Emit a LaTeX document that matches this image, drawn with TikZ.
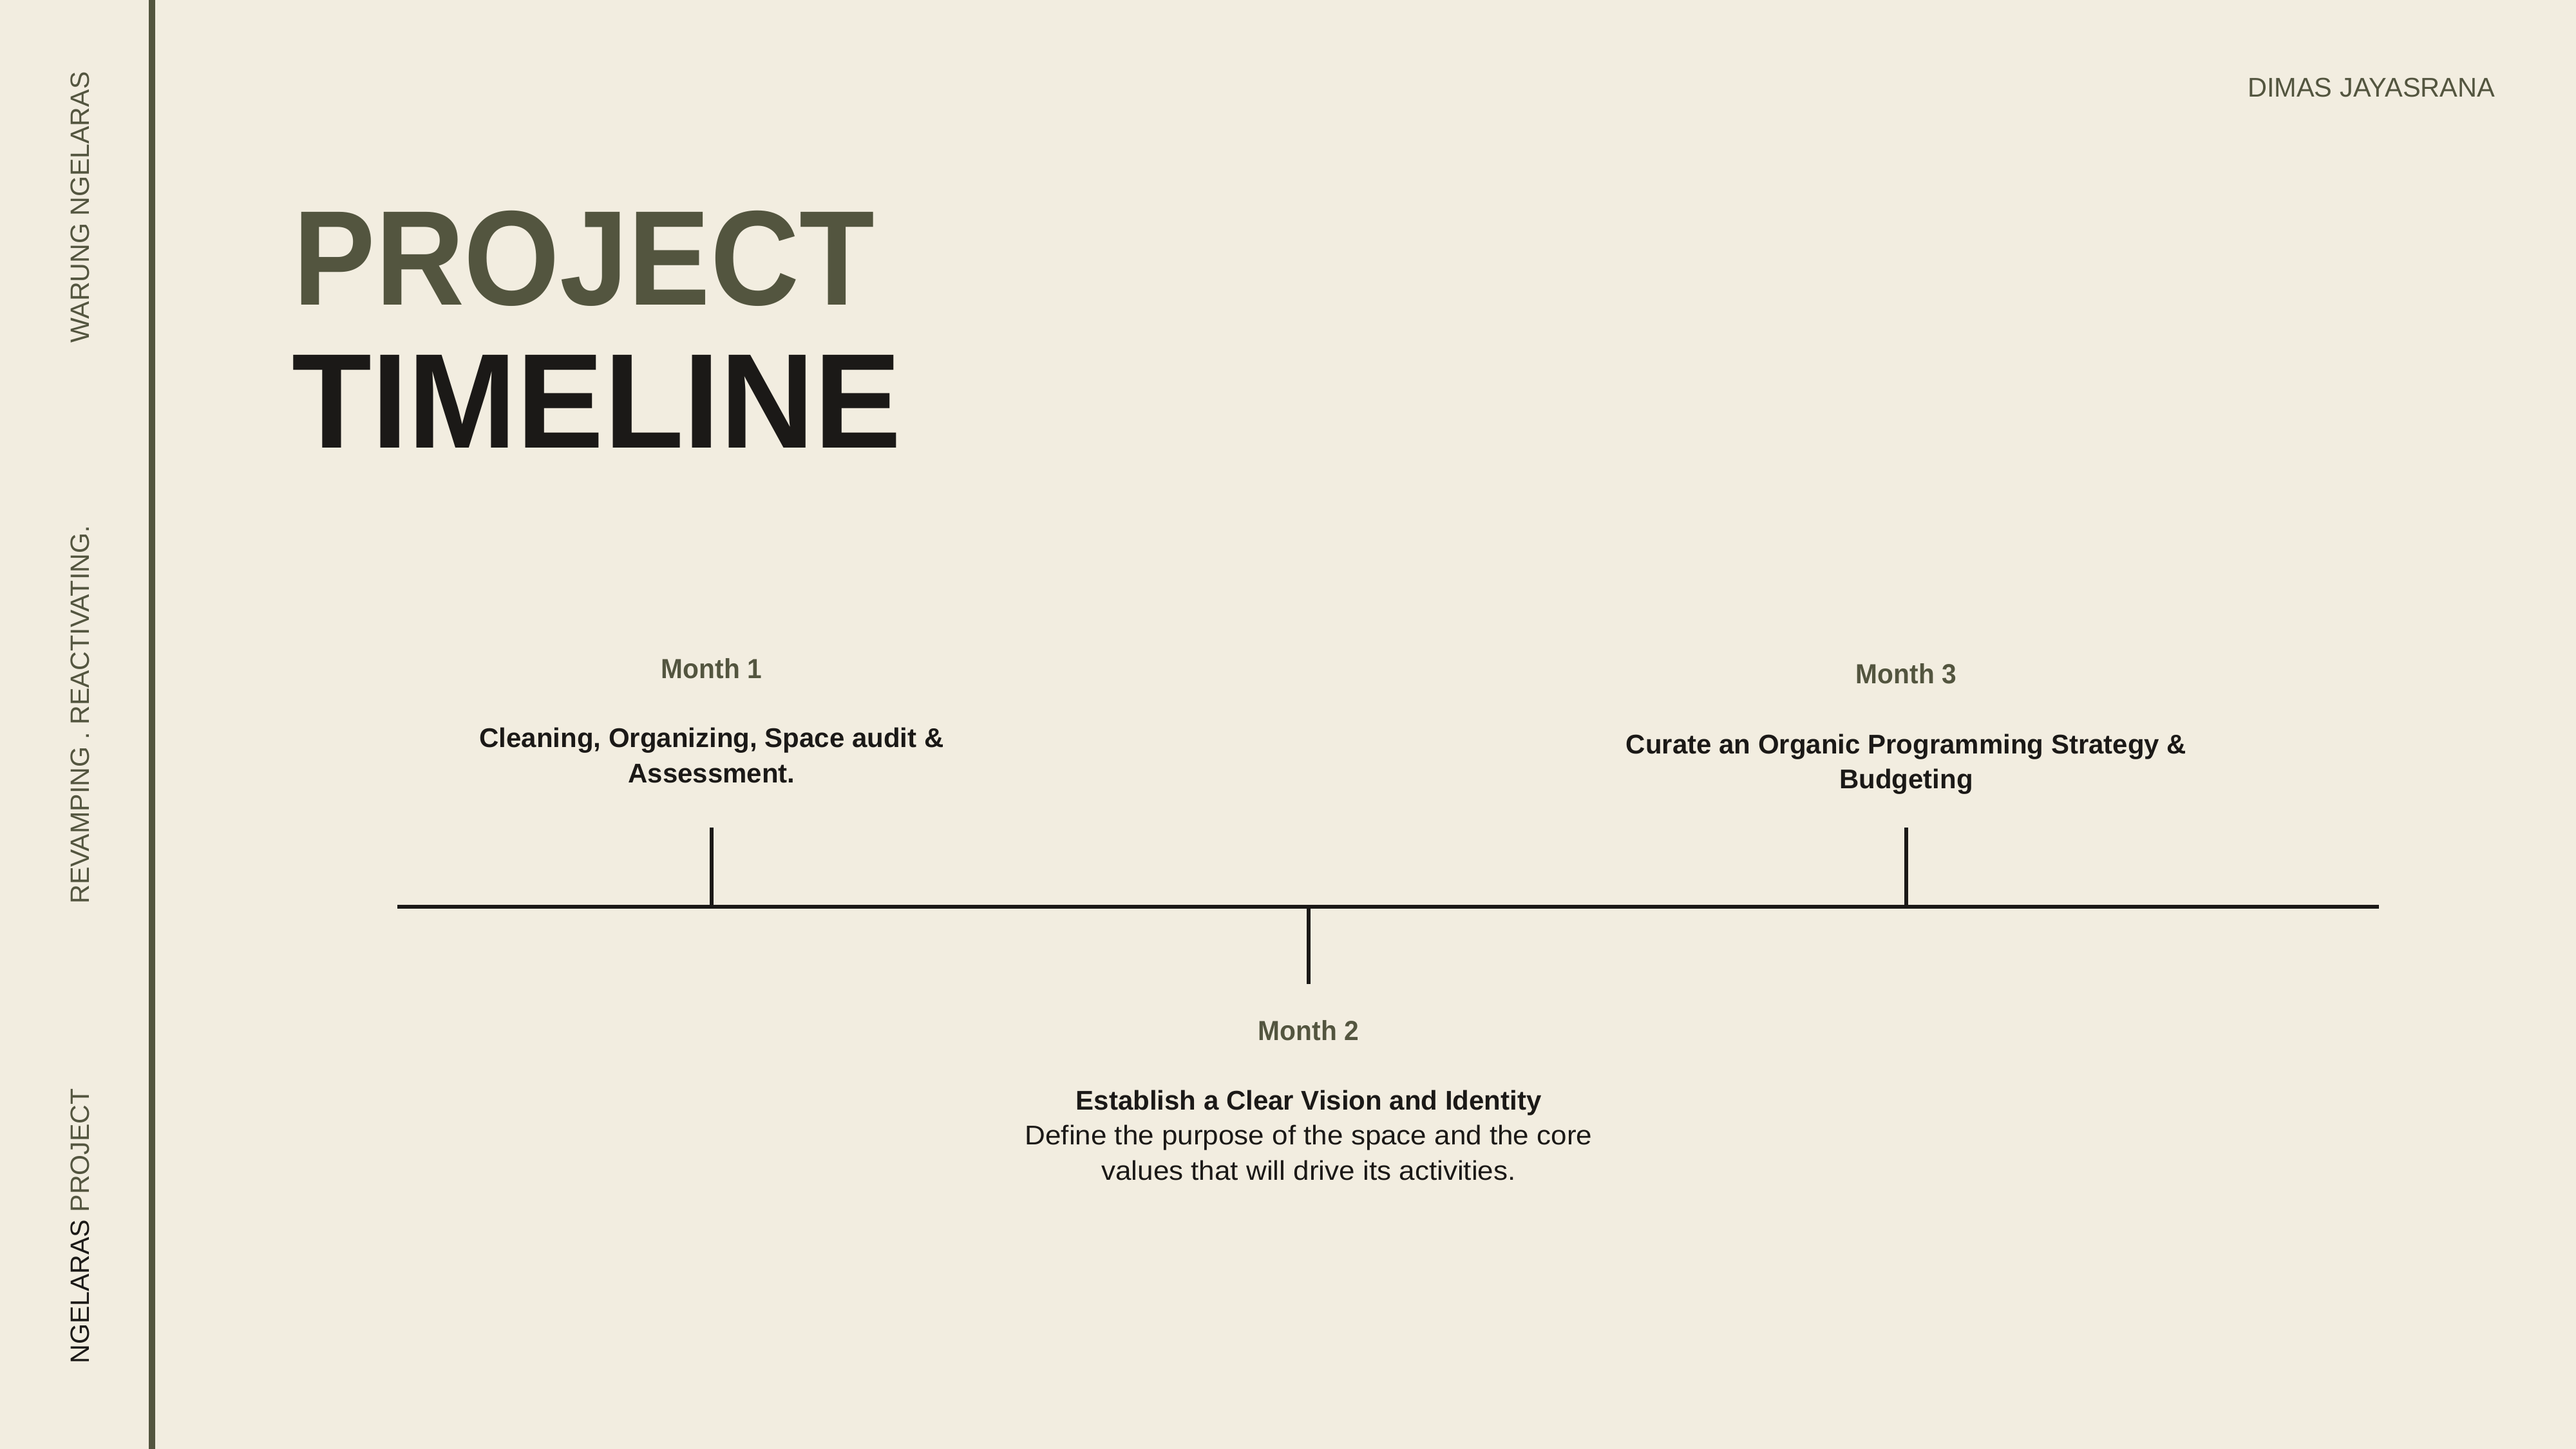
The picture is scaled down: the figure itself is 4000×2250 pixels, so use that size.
\documentclass[tikz,border=0pt]{standalone}
\usepackage{fontspec}
\setmainfont{Liberation Sans}
\definecolor{paper}{HTML}{F2EDE0}
\definecolor{olive}{HTML}{53553F}
\definecolor{ink}{HTML}{1B1917}
\begin{document}
\begin{tikzpicture}[x=0.1mm,y=-0.1mm,
    side/.style={rotate=90,anchor=base,inner sep=0pt,font=\fontsize{11.7pt}{14pt}\selectfont},
    month/.style={anchor=base,inner sep=0pt,olive,xscale=0.95,font=\bfseries\fontsize{12.2pt}{15pt}\selectfont},
    task/.style={anchor=base,inner sep=0pt,ink,font=\bfseries\fontsize{11.95pt}{15pt}\selectfont},
    note/.style={anchor=base,inner sep=0pt,ink,xscale=1.048,font=\fontsize{11.95pt}{15pt}\selectfont},
    tick/.style={line width=1.7pt,ink}]
    % Fondo
    \fill[paper] (0,0) rectangle (4000,2250);
    \useasboundingbox (0,0) rectangle (4000,2250);

    % Barra lateral
    \fill[olive] (231,0) rectangle (241,2250);
    \node[side,olive] (brand) at (138,322) {WARUNG NGELARAS};
    \node[side,olive] (motto) at (138,1110) {REVAMPING . REACTIVATING.};
    \node[side,ink] (proj) at (138,1904) {NGELARAS \textcolor{olive}{PROJECT}};
    \node[anchor=base east,inner sep=0pt,olive,xscale=0.99,font=\fontsize{11.95pt}{14pt}\selectfont] (author) at (3875,151) {DIMAS JAYASRANA};

    % Titulo
    \node[anchor=base west,inner sep=0pt,olive,xscale=0.912,font=\bfseries\fontsize{59.6pt}{60pt}\selectfont] (title1) at (455,474) {PROJECT};
    \node[anchor=base west,inner sep=0pt,ink,xscale=0.968,font=\bfseries\fontsize{59.6pt}{60pt}\selectfont] (title2) at (453,695) {TIMELINE};

    % Linea de tiempo
    \coordinate (L) at (617,1408);
    \coordinate (R) at (3694,1408);
    \coordinate (P1) at (1105,1408);
    \coordinate (P2) at (2032,1408);
    \coordinate (P3) at (2960,1408);
    \coordinate (T1) at (1105,1285);
    \coordinate (T2) at (2032,1528);
    \coordinate (T3) at (2960,1285);

    \draw[tick] (L) -- (R);
    \draw[tick] (T1) -- (P1);
    \draw[tick] (P2) -- (T2);
    \draw[tick] (T3) -- (P3);

    % Mes 1
    \node[month] (m1) at (1105,1053) {Month 1};
    \node[task] (m1a) at (1105,1160) {Cleaning, Organizing, Space audit \&};
    \node[task] (m1b) at (1105,1215) {Assessment.};

    % Mes 2
    \node[month] (m2) at (2032,1615) {Month 2};
    \node[task] (m2a) at (2032,1723) {Establish a Clear Vision and Identity};
    \node[note] (m2b) at (2032,1777) {Define the purpose of the space and the core};
    \node[note] (m2c) at (2032,1832) {values that will drive its activities.};

    % Mes 3
    \node[month] (m3) at (2960,1061) {Month 3};
    \node[task] (m3a) at (2960,1170) {Curate an Organic Programming Strategy \&};
    \node[task] (m3b) at (2960,1224) {Budgeting};
\end{tikzpicture}
\end{document}
